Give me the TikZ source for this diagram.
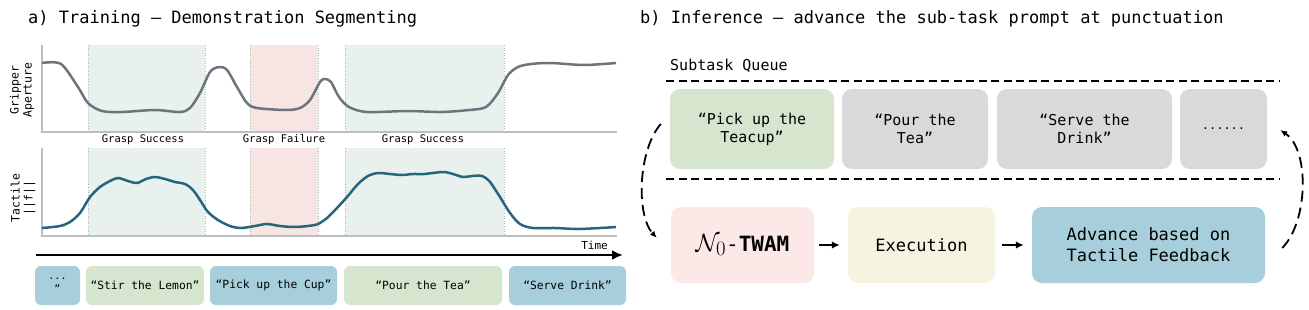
\documentclass[tikz,border=0pt]{standalone}
\usepackage{fontspec}
\setmainfont{DejaVu Sans Mono}
\usetikzlibrary{arrows.meta,positioning}

\definecolor{shadegreen}{RGB}{232,241,238}
\definecolor{shadered}{RGB}{247,229,227}
\definecolor{edgegray}{RGB}{170,186,182}
\definecolor{axisgray}{RGB}{188,190,192}
\definecolor{grippercol}{RGB}{108,116,126}
\definecolor{tactilecol}{RGB}{38,102,124}
\definecolor{tagblue}{RGB}{166,206,219}
\definecolor{taggreen}{RGB}{214,229,206}
\definecolor{taggray}{RGB}{217,217,217}
\definecolor{tagpink}{RGB}{252,232,230}
\definecolor{tagcream}{RGB}{246,243,225}

\tikzset{
    paneltitle/.style={anchor=west, inner sep=0pt, font=\fontsize{17}{20}\selectfont},
    axislabel/.style={rotate=90, align=center, inner sep=0pt, font=\fontsize{11.5}{13}\selectfont},
    phaselabel/.style={inner sep=0pt, font=\fontsize{10.5}{12}\selectfont},
    segbox/.style={rounded corners=6pt, minimum height=39pt, inner sep=0pt, align=center, font=\fontsize{11.3}{14}\selectfont},
    queuebox/.style={rounded corners=10pt, minimum height=80pt, inner sep=0pt, align=center, font=\fontsize{15}{18}\selectfont},
    stagebox/.style={rounded corners=10pt, minimum height=76pt, inner sep=0pt, align=center, font=\fontsize{17}{21}\selectfont},
    queueline/.style={line width=1.8pt, dash pattern=on 8pt off 4.5pt},
    loopline/.style={line width=1.8pt, dash pattern=on 11pt off 6pt, -{Latex[length=7pt,width=6pt]}},
    stagearrow/.style={line width=2pt, -{Latex[length=8pt,width=7.5pt]}}
}

\begin{document}
\begin{tikzpicture}[x=1pt,y=-1pt]
    \useasboundingbox (0,0) rectangle (1309,309);

    % a) training panel
    \node[paneltitle] (titlea) at (28,19) {a) Training – Demonstration Segmenting};

    \foreach \ytop/\ybot in {45/132,148/236} {
        \fill[shadegreen] (88,\ytop) rectangle (205,\ybot);
        \fill[shadered] (250,\ytop) rectangle (318,\ybot);
        \fill[shadegreen] (345,\ytop) rectangle (504,\ybot);
        \foreach \x in {88,205,250,318,345,504}
            \draw[edgegray, dotted, line width=0.6pt] (\x,\ytop)--(\x,\ybot);
        \draw[axisgray, line width=1.4pt] (42,\ytop)--(42,\ybot)--(617,\ybot);
    }

    \node[axislabel] (gripperlabel) at (22,90) {Gripper\\Aperture};
    \node[axislabel] (tactilelabel) at (23,198) {Tactile\\||f||};

    \node[phaselabel] (phase1) at (143,140) {Grasp Success};
    \node[phaselabel] (phase2) at (284,140) {Grasp Failure};
    \node[phaselabel] (phase3) at (423,140) {Grasp Success};

    \draw[grippercol, line width=2.5pt, line join=round] plot[smooth] coordinates {
        (42,63) (61,64) (78,87) (88,103) (102,111) (122,112) (155,110) (180,112)
        (190,108) (200,93) (210,72) (219,67) (227,70) (237,87) (247,103) (257,108)
        (286,110) (300,108) (310,100) (320,82) (325,79) (331,82) (339,97) (349,107)
        (367,112) (408,111) (441,112) (469,110) (486,107) (498,93) (508,75) (518,67)
        (531,64) (551,63) (584,65) (616,63)};

    \draw[tactilecol, line width=2.5pt, line join=round] plot[smooth] coordinates {
        (42,228) (60,226) (70,222) (80,213) (90,197) (100,187) (110,181) (118,178)
        (128,181) (137,183) (146,179) (155,177) (165,179) (175,182) (185,184)
        (193,190) (200,200) (208,212) (218,220) (230,226) (241,228) (255,226)
        (267,224) (280,226) (294,227) (308,226) (318,224) (327,218) (337,208)
        (347,197) (358,184) (368,176) (378,173) (390,174) (402,175) (413,174)
        (424,174) (443,172) (453,174) (463,177) (472,176) (482,176) (490,182)
        (500,197) (510,213) (520,224) (533,228) (555,228) (577,229) (600,228) (616,227)};

    % time axis
    \coordinate (timestart) at (36,255);
    \coordinate (timeend) at (623,255);
    \draw[line width=2.6pt, -{Latex[length=11pt,width=10pt]}] (timestart) -- (timeend);
    \node[anchor=east, inner sep=0pt, font=\fontsize{11}{13}\selectfont] (timelabel) at (608,245) {Time};

    \node[segbox, fill=tagblue, minimum width=45pt, font=\fontsize{10}{13}\selectfont] (seg0) at (57.5,285.5) {...\\”};
    \node[segbox, fill=taggreen, minimum width=118pt] (seg1) at (145,285.5) {“Stir the Lemon”};
    \node[segbox, fill=tagblue, minimum width=127pt] (seg2) at (273.5,285.5) {“Pick up the Cup”};
    \node[segbox, fill=taggreen, minimum width=158pt] (seg3) at (423,285.5) {“Pour the Tea”};
    \node[segbox, fill=tagblue, minimum width=117pt] (seg4) at (567.5,285.5) {“Serve Drink”};

    % b) inference panel
    \node[paneltitle] (titleb) at (640,19) {b) Inference – advance the sub-task prompt at punctuation};
    \node[anchor=west, inner sep=0pt, font=\fontsize{15}{18}\selectfont] (queuelabel) at (670,66) {Subtask Queue};

    \draw[queueline] (666,81) -- (1279,81);
    \draw[queueline] (666,179) -- (1279,179);

    \node[queuebox, fill=taggreen, minimum width=164pt] (q1) at (752,129) {“Pick up the\\Teacup”};
    \node[queuebox, fill=taggray, minimum width=146pt] (q2) at (915,129) {“Pour the\\Tea”};
    \node[queuebox, fill=taggray, minimum width=175pt] (q3) at (1084.5,129) {“Serve the\\Drink”};
    \node[queuebox, fill=taggray, minimum width=87pt, font=\fontsize{12}{14}\selectfont] (q4) at (1223.5,129) {......};

    \node[stagebox, fill=tagpink, minimum width=143pt] (twam) at (742.5,245)
        {{\fontsize{28}{30}\selectfont$\mathcal{N}_0$}{\fontsize{21}{24}\selectfont-\textbf{TWAM}}};
    \node[stagebox, fill=tagcream, minimum width=147pt] (exec) at (921.5,245) {Execution};
    \node[stagebox, fill=tagblue, minimum width=233pt] (adv) at (1148.5,245) {Advance based on\\Tactile Feedback};

    \draw[stagearrow, shorten <=5pt, shorten >=8pt] (twam) -- (exec);
    \draw[stagearrow, shorten <=7pt, shorten >=8pt] (exec) -- (adv);

    \draw[loopline] ([xshift=-9pt,yshift=5pt]q1.west) .. controls (638,150) and (636,215) .. ([xshift=-14pt,yshift=7pt]twam.west);
    \draw[loopline] ([xshift=17pt,yshift=-3pt]adv.east) .. controls (1308,222) and (1310,150) .. ([xshift=13pt,yshift=-1pt]q4.east);
\end{tikzpicture}
\end{document}
